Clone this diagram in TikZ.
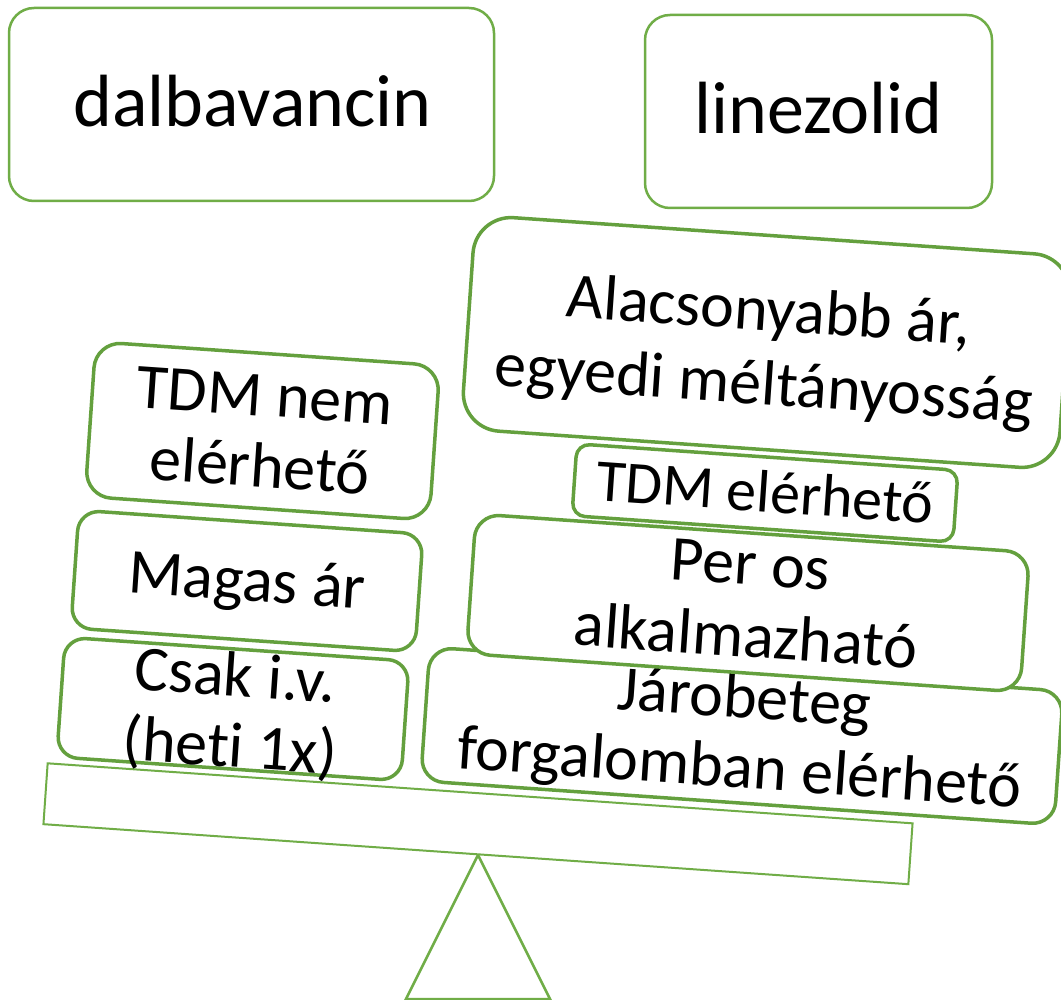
\documentclass[tikz,border=0pt]{standalone}
\usepackage{fontspec}
\setmainfont{Carlito}[Ligatures=NoCommon]
\definecolor{gthin}{HTML}{70AD47}
\definecolor{gthick}{HTML}{64A03E}
\tikzset{
  x=1pt,y=1pt,
  topbox/.style={draw=gthin, line width=2.5pt, fill=white, rounded corners=25pt, inner sep=0pt},
  lowbox/.style={draw=gthick, line width=3.5pt, fill=white, inner sep=0pt},
  beambox/.style={draw=gthin, line width=2pt, fill=white, inner sep=0pt},
  bigtxt/.style={font=\fontsize{74}{82}\selectfont, inner sep=0pt, anchor=base},
  txt/.style={font=\fontsize{64}{72}\selectfont, inner sep=0pt, anchor=base},
  smtxt/.style={font=\fontsize{60}{68}\selectfont, inner sep=0pt, anchor=base},
}
\begin{document}
\begin{tikzpicture}
\useasboundingbox (0,0) rectangle (1061,-1000);
\fill[white] (0,0) rectangle (1061,-1000);

% top labels
\node[topbox, minimum width=485pt, minimum height=193pt] (dalbox) at (251.5,-104.5) {};
\node[bigtxt] (daltxt) at (252.5,-127) {dalbavancin};
\node[topbox, minimum width=347pt, minimum height=193pt] (linbox) at (818.5,-111.5) {};
\node[bigtxt] (lintxt) at (818.5,-134) {linezolid};

% fulcrum
\draw[gthin, line width=2.5pt, line join=miter] (478,-855) -- (550,-999) -- (406,-999) -- cycle;

% beam
\begin{scope}[shift={(478,-823.75)}, rotate=-3.97, transform shape]
\node[beambox, minimum width=867pt, minimum height=61pt] (beam) at (0,0) {};
\end{scope}

% left column
\begin{scope}[shift={(233,-709)}, rotate=-3.97, transform shape]
\node[lowbox, minimum width=345pt, minimum height=120pt, rounded corners=21pt] (csak) at (0,0) {};
\node[txt] (csak1) at (0,13) {Csak i.v.};
\node[txt] (csak2) at (0,-58) {(heti 1x)};
\end{scope}

\begin{scope}[shift={(247,-581)}, rotate=-3.97, transform shape]
\node[lowbox, minimum width=345pt, minimum height=118pt, rounded corners=21pt] (magas) at (0,0) {};
\node[txt] (magas1) at (0,-20) {Magas ár};
\end{scope}

\begin{scope}[shift={(262.5,-431)}, rotate=-3.97, transform shape]
\node[lowbox, minimum width=345pt, minimum height=155pt, rounded corners=26pt] (tdmnem) at (0,0) {};
\node[txt] (tdmnem1) at (0,15) {TDM nem};
\node[txt] (tdmnem2) at (0,-56) {elérhető};
\end{scope}

% right column
\begin{scope}[shift={(742,-736)}, rotate=-3.97, transform shape]
\node[lowbox, minimum width=635pt, minimum height=134pt, rounded corners=23pt] (jaro) at (0,0) {};
\node[txt] (jaro1) at (0,18) {Járobeteg};
\node[txt] (jaro2) at (0,-52) {forgalomban elérhető};
\end{scope}

\begin{scope}[shift={(748,-603)}, rotate=-3.97, transform shape]
\node[lowbox, minimum width=555pt, minimum height=140pt, rounded corners=24pt] (peros) at (0,0) {};
\node[txt] (peros1) at (0,18) {Per os};
\node[txt] (peros2) at (0,-54) {alkalmazható};
\end{scope}

\begin{scope}[shift={(765,-493)}, rotate=-3.97, transform shape]
\node[lowbox, minimum width=382pt, minimum height=72pt, rounded corners=13pt] (tdmel) at (0,0) {};
\node[smtxt] (tdmel1) at (0,-19) {TDM elérhető};
\end{scope}

\begin{scope}[shift={(766.5,-342.5)}, rotate=-3.97, transform shape]
\node[lowbox, minimum width=598pt, minimum height=214pt, rounded corners=38pt] (alacs) at (0,0) {};
\node[txt] (alacs1) at (0,12) {Alacsonyabb ár,};
\node[txt] (alacs2) at (0,-62) {egyedi méltányosság};
\end{scope}
\end{tikzpicture}
\end{document}
